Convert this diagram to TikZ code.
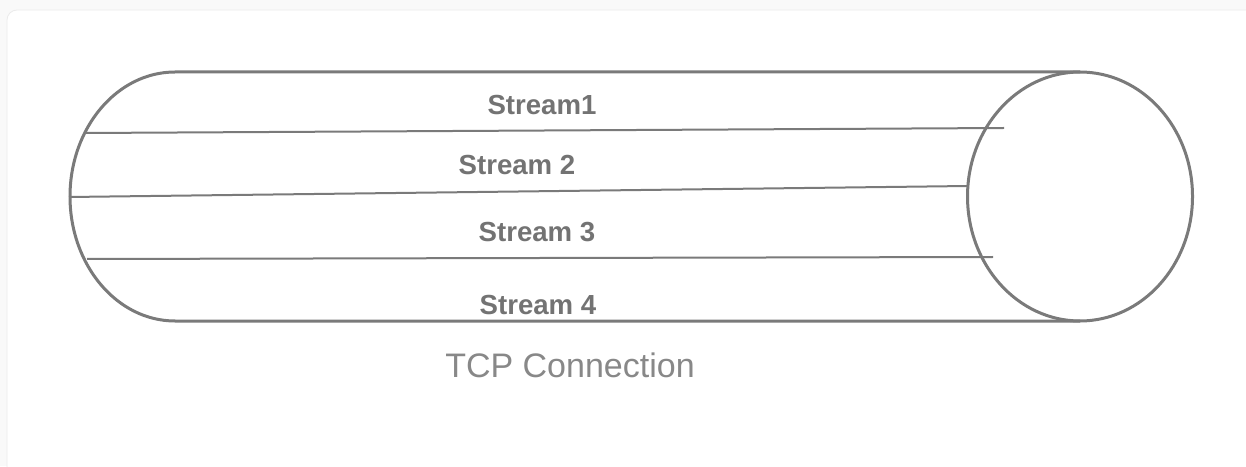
\documentclass[tikz,border=0pt]{standalone}
\usepackage{fontspec}
\setmainfont{Liberation Sans}
\usepackage{tikz}

\definecolor{pipegray}{HTML}{7A7A7A}
\definecolor{textgray}{HTML}{737373}
\definecolor{cardedge}{HTML}{EBEBEB}

\begin{document}
\begin{tikzpicture}[x=0.5pt, y=0.5pt,
  pipe/.style={draw=pipegray, line width=1.5pt},
  streamline/.style={draw=pipegray, line width=1pt},
  streamlabel/.style={text=textgray, font=\bfseries\fontsize{13.8}{16}\selectfont, inner sep=0pt},
  caption/.style={text=textgray!85, font=\fontsize{17}{20}\selectfont, inner sep=0pt}]
  % page and card
\useasboundingbox (0,0) rectangle (1246,466);
\fill[gray!5] (0,0) rectangle (1246,466);
\draw[cardedge, fill=white, rounded corners=5] (7,-20) -- (7,456) -- (1260,456) -- (1260,-20);

  % the pipe
  \coordinate (TL) at (175,394);
  \coordinate (TR) at (1080,394);
  \coordinate (BR) at (1080,145);
  \coordinate (E) at (1080,269.5);
  \draw[pipe] (TR) -- (TL) arc[start angle=90, end angle=270, x radius=105, y radius=124.5] -- (BR);
  \draw[pipe] (E) ellipse[x radius=112.5, y radius=124.5];

  % streams
  \coordinate (s1a) at (86,333);
  \coordinate (s1b) at (1004,338);
  \coordinate (s2a) at (69,269);
  \coordinate (s2b) at (968,280);
  \coordinate (s3a) at (87,207);
  \coordinate (s3b) at (993,209);
  \draw[streamline] (s1a) -- (s1b);
  \draw[streamline] (s2a) -- (s2b);
  \draw[streamline] (s3a) -- (s3b);

  \node[streamlabel] (st1) at (542,361) {Stream1};
  \node[streamlabel] (st2) at (517,301) {Stream 2};
  \node[streamlabel] (st3) at (537,234) {Stream 3};
  \node[streamlabel] (st4) at (538,161) {Stream 4};

  \node[caption] (tcp) at (570,101) {TCP Connection};

\end{tikzpicture}
\end{document}
